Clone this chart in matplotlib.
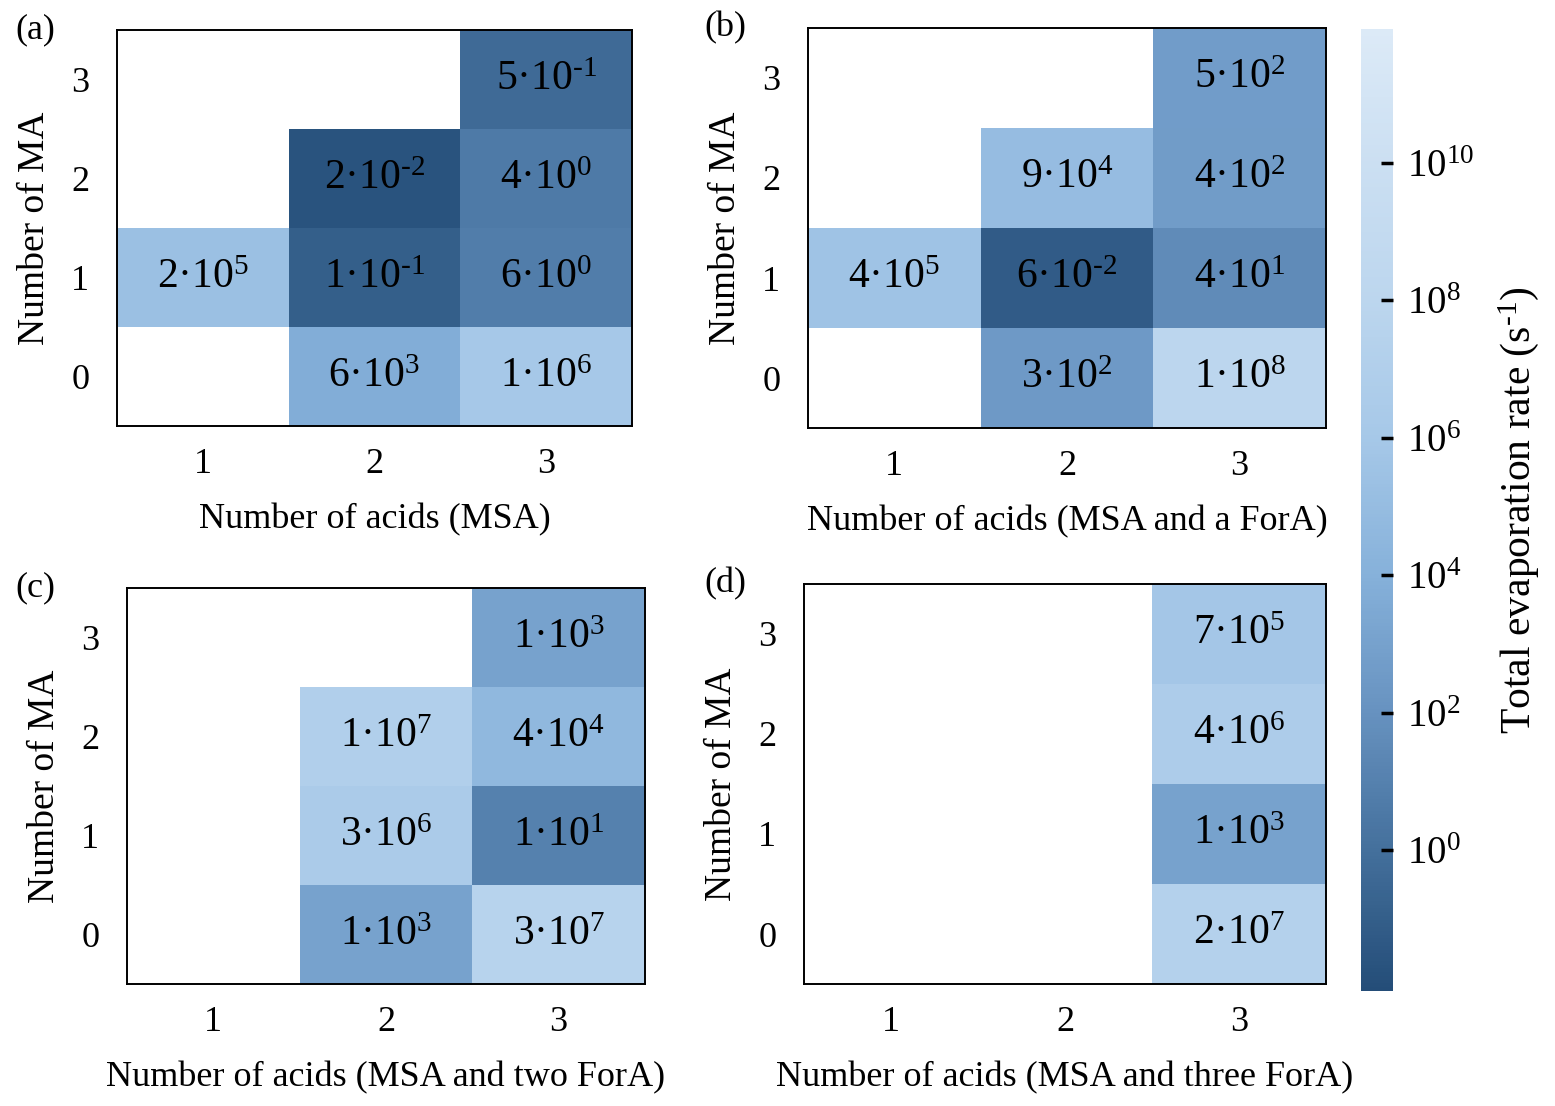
import numpy as np
import matplotlib
matplotlib.use("Agg")
import matplotlib.pyplot as plt
from matplotlib.colors import LinearSegmentedColormap, LogNorm
from matplotlib.ticker import LogFormatterMathtext

# ====================================
# DATA
# ====================================

n_acids = [1, 2, 3]
n_ma = [0, 1, 2, 3]

# rows: MA = 0, 1, 2, 3 ; columns: acids = 1, 2, 3
rate_a = [
    [np.nan, 6e3, 1e6],
    [2e5, 1e-1, 6e0],
    [np.nan, 2e-2, 4e0],
    [np.nan, np.nan, 5e-1],
]

rate_b = [
    [np.nan, 3e2, 1e8],
    [4e5, 6e-2, 4e1],
    [np.nan, 9e4, 4e2],
    [np.nan, np.nan, 5e2],
]

rate_c = [
    [np.nan, 1e3, 3e7],
    [np.nan, 3e6, 1e1],
    [np.nan, 1e7, 4e4],
    [np.nan, np.nan, 1e3],
]

rate_d = [
    [np.nan, np.nan, 2e7],
    [np.nan, np.nan, 1e3],
    [np.nan, np.nan, 4e6],
    [np.nan, np.nan, 7e5],
]

panel_tags = ["(a)", "(b)", "(c)", "(d)"]

x_labels = [
    "Number of acids (MSA)",
    "Number of acids (MSA and a ForA)",
    "Number of acids (MSA and two ForA)",
    "Number of acids (MSA and three ForA)",
]

cbar_ticks = [1e0, 1e2, 1e4, 1e6, 1e8, 1e10]

# ====================================
# STYLE
# ====================================

plt.rcParams["font.family"] = ["Liberation Serif", "DejaVu Serif"]
plt.rcParams["mathtext.fontset"] = "custom"
plt.rcParams["mathtext.rm"] = "Liberation Serif"
plt.rcParams["mathtext.it"] = "Liberation Serif:italic"
plt.rcParams["mathtext.bf"] = "Liberation Serif:bold"

cmap = LinearSegmentedColormap.from_list(
    "evap",
    [
        (0.000, "#244d78"),
        (0.146, "#44709c"),
        (0.289, "#6792c0"),
        (0.432, "#86b1da"),
        (0.575, "#a6c8e8"),
        (0.718, "#bcd6ee"),
        (0.861, "#cbdff2"),
        (1.000, "#dceaf7"),
    ]
)

norm = LogNorm(
    vmin=10 ** -2.05,
    vmax=10 ** 11.95
)

fig = plt.figure(figsize=(15.55, 11.06), dpi=100)

axes_boxes = [
    [0.0752, 0.6148, 0.3312, 0.3581],
    [0.5196, 0.6130, 0.3331, 0.3617],
    [0.0817, 0.1103, 0.3331, 0.3581],
    [0.5170, 0.1103, 0.3357, 0.3617],
]

x_edges = np.arange(0.5, 3.6, 1.0)
y_edges = np.arange(-0.5, 3.6, 1.0)


def cell_text(v):
    e = int(np.floor(np.log10(v) + 1e-9))
    m = int(round(v / 10 ** e))
    sup = f"\\text{{-}}{abs(e)}" if e < 0 else f"{e}"
    return f"{m}·10$^{{{sup}}}$"


mesh = None

for k, rates in enumerate([rate_a, rate_b, rate_c, rate_d]):

    ax = fig.add_axes(axes_boxes[k])

    data = np.ma.masked_invalid(np.array(rates, dtype=float))

    mesh = ax.pcolormesh(
        x_edges,
        y_edges,
        data,
        cmap=cmap,
        norm=norm
    )

    for i, ma in enumerate(n_ma):
        for j, ac in enumerate(n_acids):
            v = rates[i][j]
            if np.isnan(v):
                continue
            ax.text(
                ac, ma, cell_text(v),
                ha="center", va="center",
                fontsize=30, color="black"
            )

    ax.set_xlim(0.5, 3.5)
    ax.set_ylim(-0.5, 3.5)
    ax.set_xticks(n_acids)
    ax.set_yticks(n_ma)
    ax.tick_params(length=0, labelsize=26)
    ax.tick_params(axis="x", pad=16)
    ax.tick_params(axis="y", pad=20)

    for s in ax.spines.values():
        s.set_linewidth(1.4)

    ax.set_xlabel(x_labels[k], fontsize=26, labelpad=16)
    ax.set_ylabel("Number of MA", fontsize=27, labelpad=14)

    bx = axes_boxes[k]
    fig.text(
        0.010 if k % 2 == 0 else 0.453,
        bx[1] + bx[3],
        panel_tags[k],
        fontsize=26,
        ha="left", va="center"
    )

# ====================================
# COLORBAR
# ====================================

cax = fig.add_axes([0.8752, 0.104, 0.0206, 0.8698])

cbar = fig.colorbar(mesh, cax=cax)
cbar.outline.set_visible(False)
cbar.set_ticks(cbar_ticks)
cbar.ax.yaxis.set_major_formatter(LogFormatterMathtext())
cbar.ax.minorticks_off()
cbar.ax.tick_params(
    direction="in", length=9, width=2.5,
    labelsize=28, pad=10, color="black"
)
cbar.set_label(
    "Total evaporation rate (s$^{\\text{-}1}$)",
    fontsize=30, labelpad=16
)

plt.savefig("out.png", dpi=100)
plt.close()
